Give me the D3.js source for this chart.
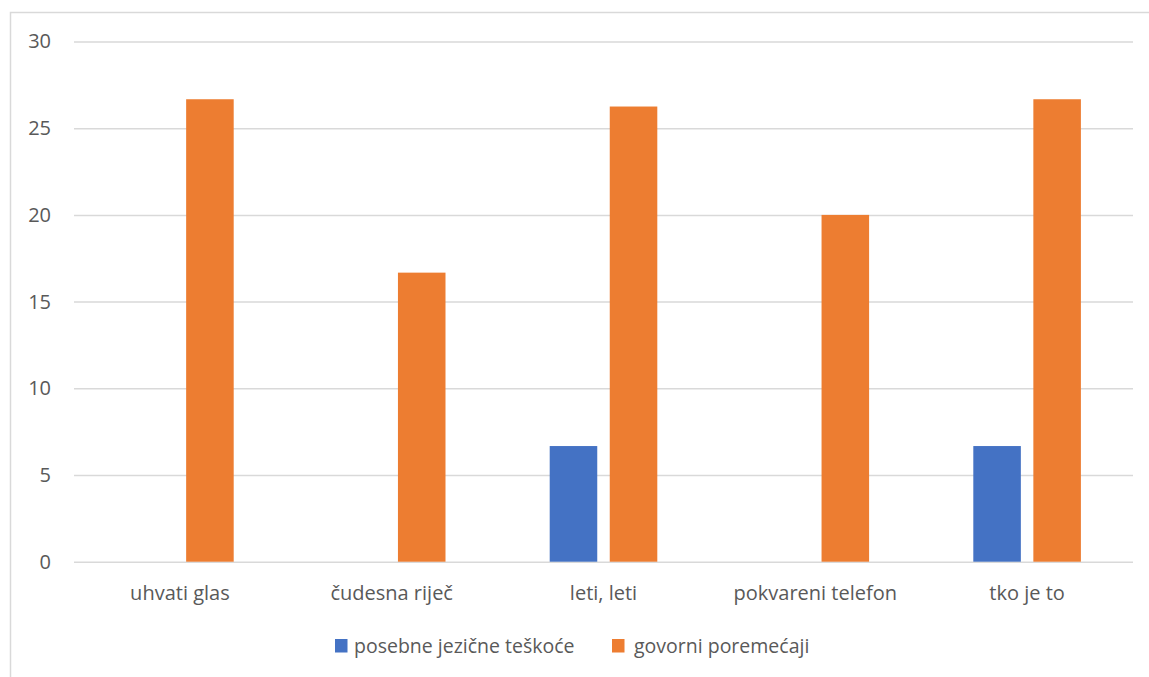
<!DOCTYPE html>
<html>
<head>
<meta charset="utf-8">
<script src="https://cdn.jsdelivr.net/npm/d3@7"></script>
<style>
  body { margin: 0; background: #fff; }
  text { font-family: "Open Sans", "Noto Sans", sans-serif; fill: #595959; }
</style>
</head>
<body>
<svg id="chart"></svg>
<script>
const categories = ["uhvati glas", "čudesna riječ", "leti, leti", "pokvareni telefon", "tko je to"];
const seriesNames = ["posebne jezične teškoće", "govorni poremećaji"];
const jezicne = [0, 0, 6.67, 0, 6.67];
const govorni = [26.67, 16.67, 26.25, 20, 26.67];
const yTicks = [0, 5, 10, 15, 20, 25, 30];
const colors = ["#4472C4", "#ED7D31"];

const width = 1149, height = 677;
const marginLeft = 74, marginRight = 16, marginTop = 41.5, yZero = 561.7;

const svg = d3.select("#chart")
    .attr("width", width)
    .attr("height", height)
    .attr("viewBox", [0, 0, width, height]);

// chart area border (only top and left visible in frame)
svg.append("rect")
    .attr("x", 10.5).attr("y", 12.5)
    .attr("width", 1300).attr("height", 800)
    .attr("fill", "none")
    .attr("stroke", "#D9D9D9")
    .attr("stroke-width", 1.5);

const x = d3.scaleBand(categories, [marginLeft, width - marginRight]).padding(0);
const y = d3.scaleLinear([0, 30], [yZero, marginTop]);

const band = x.bandwidth();
const barW = band * 0.2245;
const gap = band * 0.059;
const x1 = d3.scaleOrdinal([0, 1], [band / 2 - gap / 2 - barW, band / 2 + gap / 2]);

// grid + y labels
const yAxis = d3.axisLeft(y).tickValues(yTicks).tickSize(0).tickPadding(23);
svg.append("g")
    .attr("transform", `translate(${marginLeft},0)`)
    .call(yAxis)
    .call(g => g.select(".domain").remove())
    .call(g => g.selectAll(".tick text").style("font-size", "20px").attr("fill", "#595959"))
    .call(g => g.selectAll(".tick line").clone()
        .attr("x2", width - marginLeft - marginRight)
        .attr("stroke", "#D9D9D9")
        .attr("stroke-width", 1.5));

const rows = categories.map((c, i) => ({ c, v: [jezicne[i], govorni[i]] }));

svg.append("g")
  .selectAll("g")
  .data(rows)
  .join("g")
    .attr("transform", d => `translate(${x(d.c)},0)`)
  .selectAll("rect")
  .data(d => d.v.map((v, s) => ({ v, s })).filter(d => d.v > 0))
  .join("rect")
    .attr("x", d => x1(d.s))
    .attr("y", d => y(d.v))
    .attr("width", barW)
    .attr("height", d => y(0) - y(d.v))
    .attr("fill", d => colors[d.s]);

// x axis labels
const xAxis = d3.axisBottom(x).tickSize(0).tickPadding(24);
svg.append("g")
    .attr("transform", `translate(0,${yZero})`)
    .call(xAxis)
    .call(g => g.select(".domain").remove())
    .call(g => g.selectAll(".tick text").style("font-size", "20px").attr("fill", "#595959"));

// legend
const legendItems = [{ x: 335, tx: 354 }, { x: 612, tx: 634 }];
const legend = svg.append("g")
  .selectAll("g")
  .data(seriesNames)
  .join("g");
legend.append("rect")
    .attr("x", (d, i) => legendItems[i].x)
    .attr("y", 639)
    .attr("width", 12.5).attr("height", 13.5)
    .attr("fill", (d, i) => colors[i]);
legend.append("text")
    .attr("x", (d, i) => legendItems[i].tx)
    .attr("y", 653)
    .style("font-size", "19.5px")
    .text(d => d);
</script>
</body>
</html>
